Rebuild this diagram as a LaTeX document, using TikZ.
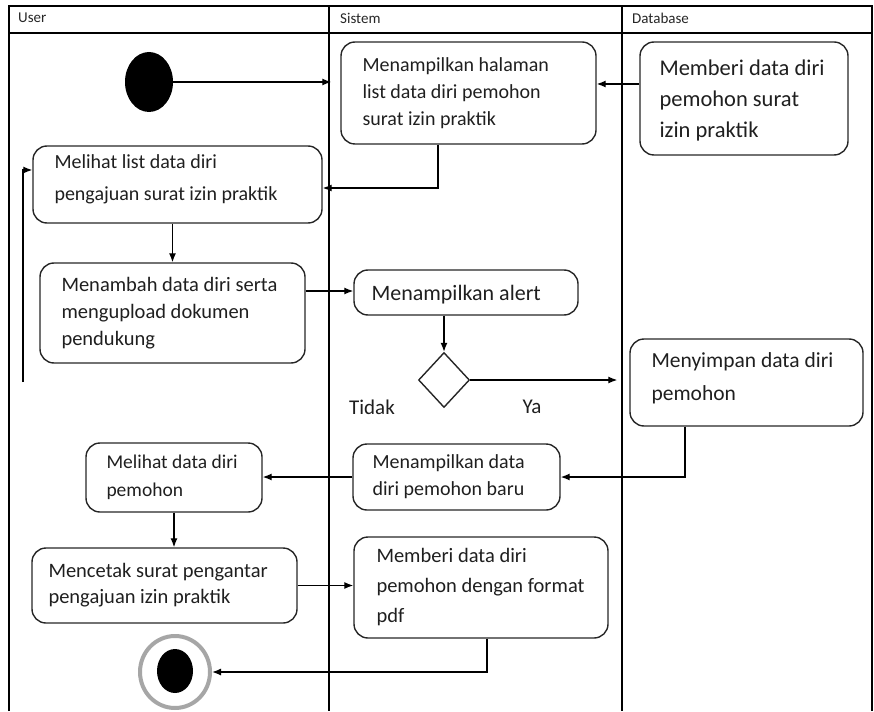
\documentclass[tikz,border=0pt]{standalone}
\usepackage{fontspec}
\setmainfont{Carlito}
\usetikzlibrary{arrows.meta,shapes.geometric,calc}
\begin{document}
\begin{tikzpicture}[x=1pt,y=-1pt,
  box/.style={draw=black!85, line width=1.4pt, rounded corners=14pt, inner sep=0pt},
  txt/.style={anchor=west, align=left, inner sep=0pt, text=black!88},
  flow/.style={draw=black, line width=1.3pt, -{Latex[length=9pt,width=7pt]}},
  lane/.style={draw=black, line width=1.5pt},
  hdr/.style={anchor=west, inner sep=0pt, text=black!85, font=\fontsize{15}{18}\selectfont}]
\useasboundingbox (0,0) rectangle (874,711);
% swimlanes
\draw[lane] (9,711) -- (9,6) -- (872,6) -- (872,711);
\draw[lane] (9,33) -- (872,33);
\draw[lane] (329,6) -- (329,711);
\draw[lane] (622,6) -- (622,711);
\node[hdr] (hU) at (18,18) {User};
\node[hdr] (hS) at (340,18) {Sistem};
\node[hdr] (hD) at (632,18) {Database};
% start / end
\node[ellipse, fill=black, minimum width=48pt, minimum height=60pt, inner sep=0pt] (S) at (149,82) {};
\node[ellipse, draw=black!35, line width=4pt, fill=white, minimum width=70pt, minimum height=72pt, inner sep=0pt] (End) at (175,672) {};
\node[ellipse, fill=black, minimum width=36pt, minimum height=44pt, inner sep=0pt] (EndIn) at (175,671) {};
% boxes
\node[box, minimum width=255pt, minimum height=102pt] (A) at (468.5,93) {};
\node[box, minimum width=208pt, minimum height=113pt] (B) at (744,98.5) {};
\node[box, minimum width=289pt, minimum height=77pt] (C) at (177.5,184.5) {};
\node[box, minimum width=265pt, minimum height=100pt] (D) at (172.5,313) {};
\node[box, minimum width=224pt, minimum height=45pt] (E) at (466,292.5) {};
\node[diamond, draw=black!85, line width=1.4pt, minimum width=51pt, minimum height=55pt, inner sep=0pt] (Dm) at (444,380) {};
\node[box, minimum width=233pt, minimum height=87pt] (F) at (746.5,382.5) {};
\node[box, minimum width=207pt, minimum height=66pt] (G) at (456.5,477) {};
\node[box, minimum width=176pt, minimum height=69pt] (H) at (174,477.5) {};
\node[box, minimum width=265pt, minimum height=75pt] (I) at (164.5,585.5) {};
\node[box, minimum width=254pt, minimum height=101pt] (J) at (481,587.5) {};
% texts
\node[txt, font=\fontsize{20}{27}\selectfont] (tA) at ([xshift=22pt]A.west) {Menampilkan halaman\\list data diri pemohon\\surat izin praktik};
\node[txt, font=\fontsize{22.5}{31}\selectfont] (tB) at ([xshift=20pt,yshift=-2pt]B.west) {Memberi data diri\\pemohon surat\\izin praktik};
\node[txt, font=\fontsize{20}{32}\selectfont] (tC) at ([xshift=22pt,yshift=5pt]C.west) {Melihat list data diri\\pengajuan surat izin praktik};
\node[txt, font=\fontsize{20.5}{27}\selectfont] (tD) at ([xshift=22pt]D.west) {Menambah data diri serta\\mengupload dokumen\\pendukung};
\node[txt, font=\fontsize{22}{27}\selectfont] (tE) at ([xshift=18pt,yshift=-2pt]E.west) {Menampilkan alert};
\node[txt, font=\fontsize{21.5}{33}\selectfont] (tF) at ([xshift=22pt,yshift=4pt]F.west) {Menyimpan data diri\\pemohon};
\node[txt, font=\fontsize{20}{27}\selectfont] (tG) at ([xshift=20pt]G.west) {Menampilkan data\\diri pemohon baru};
\node[txt, font=\fontsize{19.5}{28}\selectfont] (tH) at ([xshift=21pt]H.west) {Melihat data diri\\pemohon};
\node[txt, font=\fontsize{20.5}{26}\selectfont] (tI) at ([xshift=17pt]I.west) {Mencetak surat pengantar\\pengajuan izin praktik};
\node[txt, font=\fontsize{20.5}{30}\selectfont] (tJ) at ([xshift=23pt]J.west) {Memberi data diri\\pemohon dengan format\\pdf};
\node[inner sep=0pt, text=black!88, font=\fontsize{21}{24}\selectfont] (lT) at (372,407) {Tidak};
\node[inner sep=0pt, text=black!88, font=\fontsize{21}{24}\selectfont] (lY) at (532,407) {Ya};
% helper coordinates
\coordinate (yBA) at (0,84);
\coordinate (xAC) at (438,0);
\coordinate (yAC) at (0,188);
\coordinate (L) at (23,382);
\coordinate (yL) at (0,170);
\coordinate (yDE) at (0,291);
\coordinate (xFG) at (685,0);
\coordinate (xJE) at (487,0);
% connectors
\draw[flow, shorten >=9pt] (S.east) -- (S.east -| A.west);
\draw[flow] (B.west |- yBA) -- (A.east |- yBA);
\draw[flow] (xAC |- A.south) -- (xAC |- yAC) -- (C.east |- yAC);
\draw[flow] (L) -- (L |- yL) -- (C.west |- yL);
\draw[flow] (C.south -| D.north) -- (D.north);
\draw[flow] (D.east |- yDE) -- (E.west |- yDE);
\draw[flow] (E.south -| Dm.north) -- (Dm.north);
\draw[flow, shorten >=12pt] (Dm.east) -- (Dm.east -| F.west);
\draw[flow] (xFG |- F.south) |- (G.east);
\draw[flow] (G.west) -- (G.west -| H.east);
\draw[flow] (H.south) -- (H.south |- I.north);
\draw[flow] (I.east) -- (I.east -| J.west);
\draw[flow] (xJE |- J.south) |- (End.east);
\end{tikzpicture}
\end{document}
